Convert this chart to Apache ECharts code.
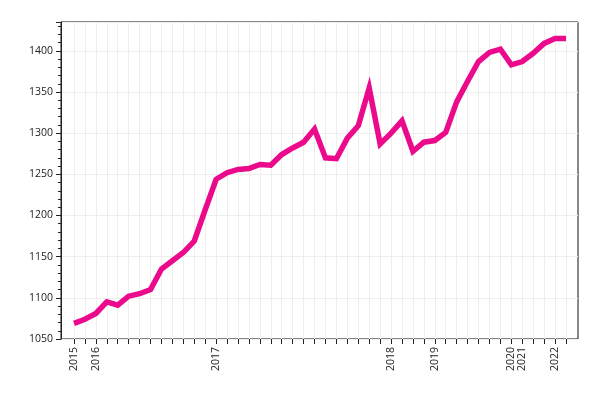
<!DOCTYPE html>
<html>
<head>
<meta charset="utf-8">
<script src="https://cdn.jsdelivr.net/npm/echarts@6/dist/echarts.min.js"></script>
<style>html,body{margin:0;padding:0;background:#fff;}#c{width:600px;height:400px;}</style>
</head>
<body>
<div id="c"></div>
<script>
// Category tick labels (year shown at the first point of each year)
var tickLabels = ['2015','','2016','','','','','','','','','','','2017','','','','','','','','','','','','','','','','2018','','','','2019','','','','','','','2020','2021','','','2022',''];
// Series values
var values = [1069,1074,1081,1095,1091,1102,1105,1110,1135,1145,1155,1169,1207,1244,1252,1256,1257,1262,1261,1274,1282,1289,1305,1270,1269,1294,1309,1355,1287,1300,1315,1278,1289,1291,1301,1338,1363,1387,1398,1402,1383,1387,1397,1409,1415,1415];
var categories = values.map(function(v, i){ return 'p' + i; });
// Y ticks
var yMin = 1050, yMax = 1435, yStep = 50;

var font = 'Open Sans';
var chart = echarts.init(document.getElementById('c'), null, {renderer: 'canvas'});
chart.setOption({
  animation: false,
  grid: [
    {left: 61, right: 22, top: 22, bottom: 61, show: true, borderColor: '#111', borderWidth: 1, backgroundColor: 'transparent'},
    {left: 74, right: 34, top: 22, bottom: 61}
  ],
  xAxis: [
    {gridIndex: 0, type: 'value', show: false, min: 0, max: 1},
    {gridIndex: 1, type: 'category', data: categories, boundaryGap: false,
     axisLine: {show: false},
     axisTick: {show: true, interval: 0, length: 5, lineStyle: {color: '#222'}},
     axisLabel: {interval: 0, rotate: 90, margin: 8, fontFamily: font, fontSize: 10.5, color: '#222',
       formatter: function(v, i){ return tickLabels[i]; }},
     splitLine: {show: true, interval: 0, lineStyle: {color: '#eeeeee', width: 1}}
    }
  ],
  yAxis: [
    {gridIndex: 0, type: 'value', min: yMin, max: yMax, interval: yStep,
     axisLine: {show: true, lineStyle: {color: '#222'}},
     axisTick: {show: true, length: 5, lineStyle: {color: '#222'}},
     minorTick: {show: true, splitNumber: 5, length: 3, lineStyle: {color: '#222'}},
     axisLabel: {showMaxLabel: false, margin: 8, fontFamily: font, fontSize: 10.5, color: '#222',
       formatter: function(v){ return String(v); }},
     splitLine: {show: true, lineStyle: {color: '#eeeeee', width: 1}}
    },
    {gridIndex: 1, type: 'value', min: yMin, max: yMax, show: false, splitLine: {show: false}}
  ],
  series: [{
    type: 'line', xAxisIndex: 1, yAxisIndex: 1, data: values,
    showSymbol: false, symbol: 'none',
    lineStyle: {color: '#ec0a8c', width: 5.5, join: 'miter'}
  }]
});
</script>
</body>
</html>
